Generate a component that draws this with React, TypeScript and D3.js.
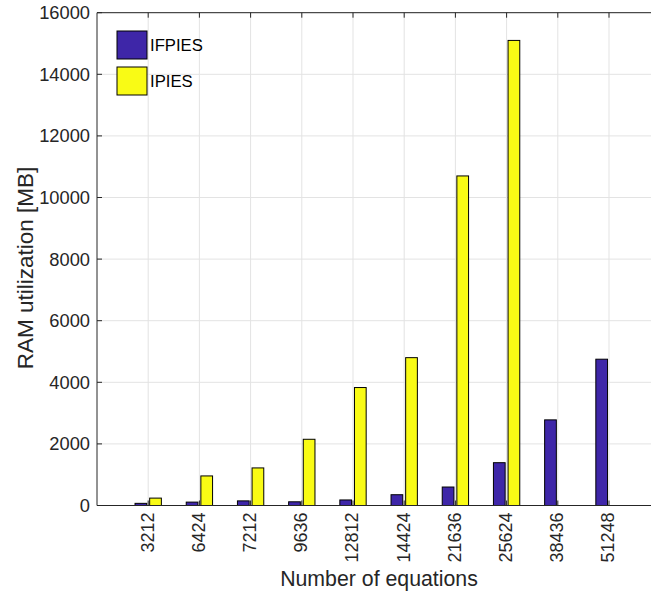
import React from "react";
import * as d3 from "d3";

const categories = ["3212", "6424", "7212", "9636", "12812", "14424", "21636", "25624", "38436", "51248"];
const ifpies = [70, 110, 150, 120, 180, 350, 600, 1390, 2780, 4750];
const ipies = [240, 960, 1220, 2150, 3830, 4800, 10700, 15100, 0, 0];
const seriesNames = ["IFPIES", "IPIES"];
const yTicks = [0, 2000, 4000, 6000, 8000, 10000, 12000, 14000, 16000];

const W = 651;
const H = 593;
const left = 97;
const unit = 51.2;
const top = 12.7;
const bottom = 505.5;
const colors = ["#3e26a8", "#f9fb15"];
const font = "'Liberation Sans', Arial, Helvetica, sans-serif";
const axisColor = "#262626";

export default function App() {
  const x = d3.scaleLinear().domain([0, 11]).range([left, left + 11 * unit]);
  const y = d3.scaleLinear().domain([0, 16000]).range([bottom, top]);
  const groupWidth = Math.min(0.8, 2 / 3.5);
  const barW = (groupWidth / 2) * 0.8;
  const offsets = [-groupWidth / 4, groupWidth / 4];
  const series = [ifpies, ipies];
  const right = x(11);

  return (
    <svg width={W} height={H} style={{ position: "absolute", left: 0, top: 0, background: "#fff" }}>
      <rect x={0} y={0} width={W} height={H} fill="#fff" />
      {yTicks.map((t) => (
        <line key={"gy" + t} x1={left} x2={right} y1={y(t)} y2={y(t)} stroke="#e3e3e3" strokeWidth={1} />
      ))}
      {categories.map((c, i) => (
        <line key={"gx" + c} x1={x(i + 1)} x2={x(i + 1)} y1={top} y2={bottom} stroke="#e3e3e3" strokeWidth={1} />
      ))}
      {series.map((vals, s) =>
        vals.map((v, i) => {
          const cx = x(i + 1 + offsets[s]);
          const w = x(barW) - x(0);
          return (
            <rect
              key={s + "-" + i}
              x={cx - w / 2}
              y={y(v)}
              width={w}
              height={bottom - y(v)}
              fill={colors[s]}
              stroke={v === 0 ? "#777" : "#000"}
              strokeWidth={1}
            />
          );
        })
      )}
      <line x1={left} x2={right} y1={bottom} y2={bottom} stroke={axisColor} strokeWidth={1} />
      <line x1={left} x2={right} y1={top} y2={top} stroke={axisColor} strokeWidth={1} />
      <line x1={left} x2={left} y1={top} y2={bottom} stroke={axisColor} strokeWidth={1} />
      {yTicks.map((t) => (
        <line key={"ty" + t} x1={left} x2={left + 5} y1={y(t)} y2={y(t)} stroke={axisColor} strokeWidth={1} />
      ))}
      {categories.map((c, i) => (
        <g key={"tx" + c}>
          <line x1={x(i + 1)} x2={x(i + 1)} y1={top} y2={top + 5} stroke={axisColor} strokeWidth={1} />
          <line x1={x(i + 1)} x2={x(i + 1)} y1={bottom} y2={bottom - 5} stroke={axisColor} strokeWidth={1} />
        </g>
      ))}
      {yTicks.map((t) => (
        <text
          key={"ly" + t}
          x={left - 7}
          y={y(t)}
          dy="0.35em"
          textAnchor="end"
          fontFamily={font}
          fontSize={18.3}
          fill={axisColor}
        >
          {t}
        </text>
      ))}
      {categories.map((c, i) => (
        <text
          key={"lx" + c}
          transform={`translate(${x(i + 1) - 1},${bottom + 7}) rotate(-90)`}
          dy="0.35em"
          textAnchor="end"
          fontFamily={font}
          fontSize={18}
          fill={axisColor}
        >
          {c}
        </text>
      ))}
      <text x={379} y={585.5} textAnchor="middle" fontFamily={font} fontSize={21.3} fill={axisColor}>
        Number of equations
      </text>
      <text
        transform={`translate(33,268) rotate(-90)`}
        textAnchor="middle"
        fontFamily={font}
        fontSize={22.5}
        fill={axisColor}
      >
        RAM utilization [MB]
      </text>
      {seriesNames.map((n, s) => (
        <g key={"lg" + n}>
          <rect x={117} y={31 + s * 36} width={30} height={28} fill={colors[s]} stroke="#000" strokeWidth={1} />
          <text x={150} y={45 + s * 36} dy="0.35em" fontFamily={font} fontSize={16.7} fill="#000">
            {n}
          </text>
        </g>
      ))}
    </svg>
  );
}
